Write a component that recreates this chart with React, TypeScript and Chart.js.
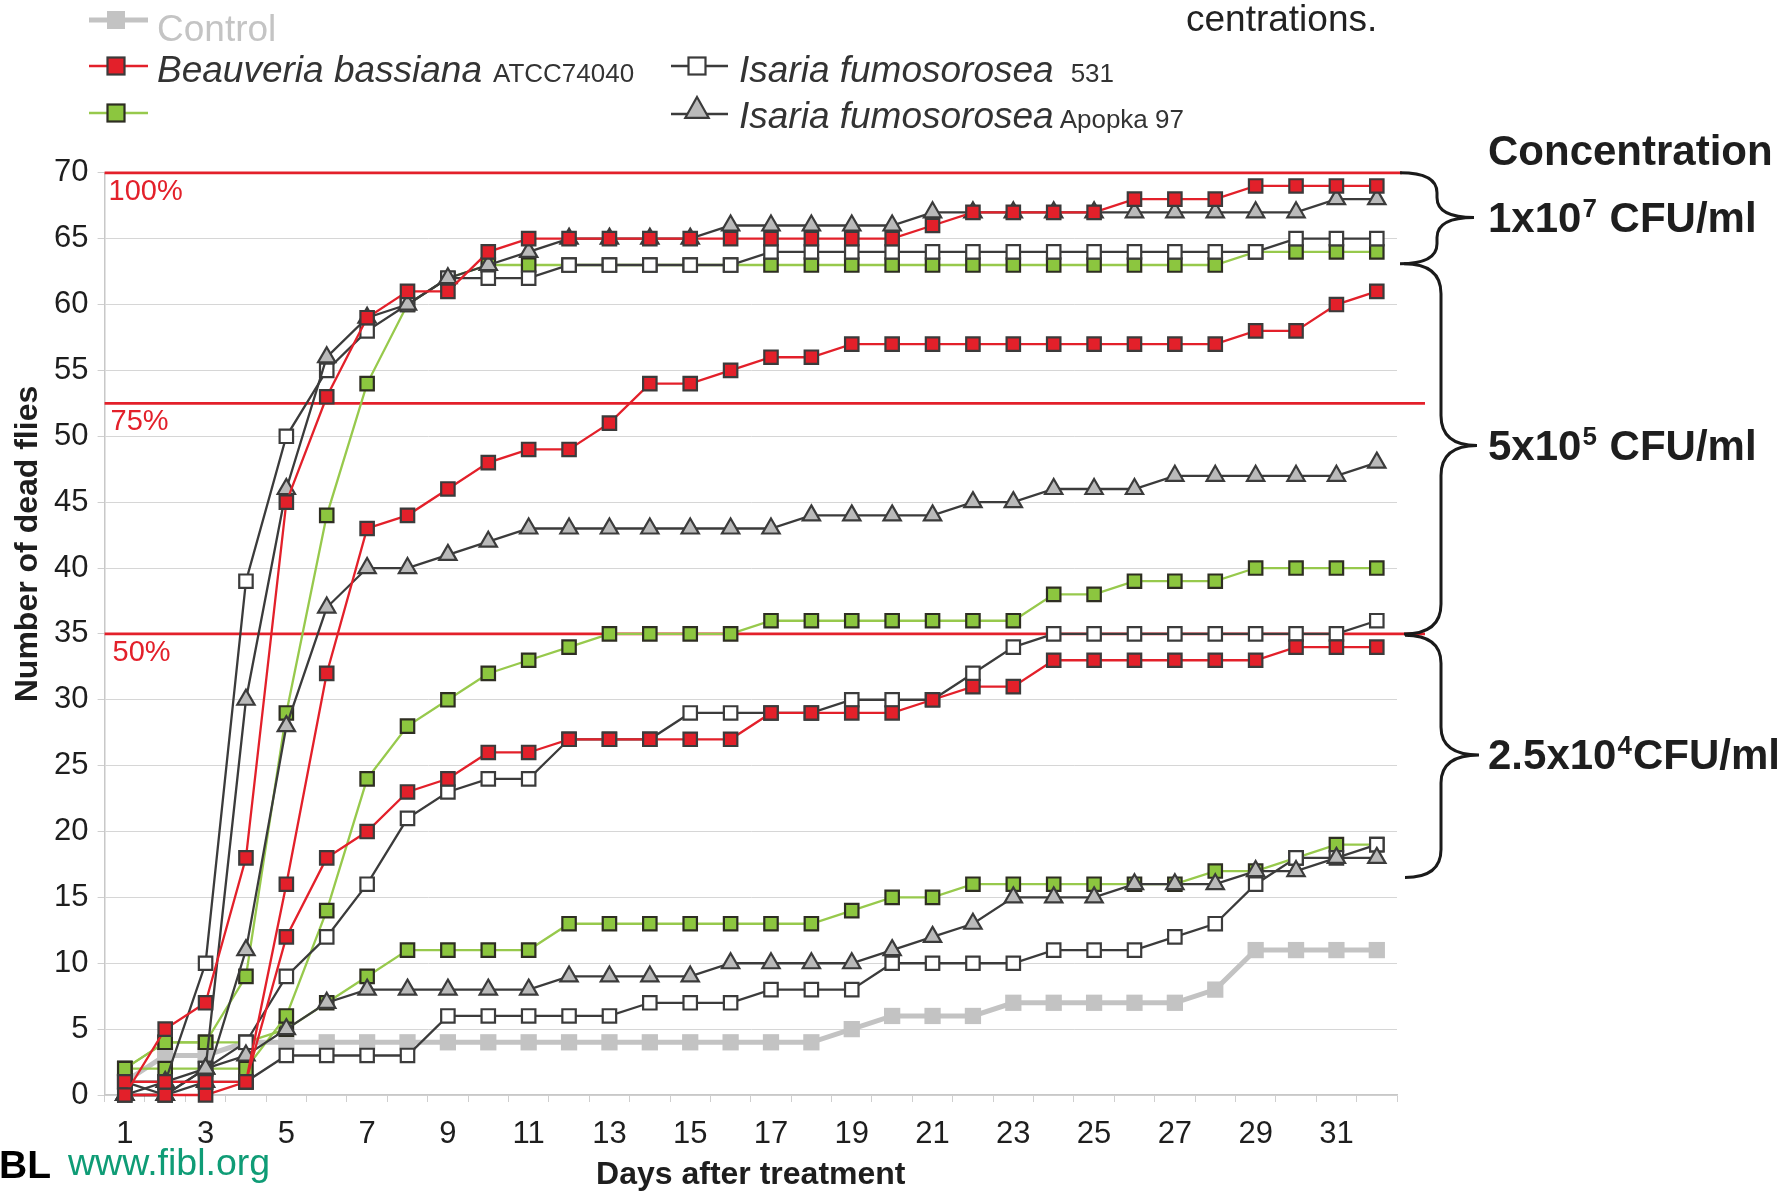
import React, { useEffect, useRef } from 'react';
import { Chart, registerables } from 'chart.js';

Chart.register(...registerables);

const W = 1783;
const H = 1191;
const FONT = '"Liberation Sans", Arial, Helvetica, sans-serif';

// ---------------- data ----------------
const days = [1, 2, 3, 4, 5, 6, 7, 8, 9, 10, 11, 12, 13, 14, 15, 16, 17, 18, 19, 20, 21, 22, 23, 24, 25, 26, 27, 28, 29, 30, 31, 32];
const yTicks = [0, 5, 10, 15, 20, 25, 30, 35, 40, 45, 50, 55, 60, 65, 70];

const controlValues = [1, 3, 3, 4, 4, 4, 4, 4, 4, 4, 4, 4, 4, 4, 4, 4, 4, 4, 5, 6, 6, 6, 7, 7, 7, 7, 7, 8, 11, 11, 11, 11];

const beauveriaHigh = [0, 5, 7, 18, 45, 53, 59, 61, 61, 64, 65, 65, 65, 65, 65, 65, 65, 65, 65, 65, 66, 67, 67, 67, 67, 68, 68, 68, 69, 69, 69, 69];
const beauveriaMid = [1, 1, 1, 1, 16, 32, 43, 44, 46, 48, 49, 49, 51, 54, 54, 55, 56, 56, 57, 57, 57, 57, 57, 57, 57, 57, 57, 57, 58, 58, 60, 61];
const beauveriaLow = [0, 0, 0, 1, 12, 18, 20, 23, 24, 26, 26, 27, 27, 27, 27, 27, 29, 29, 29, 29, 30, 31, 31, 33, 33, 33, 33, 33, 33, 34, 34, 34];

const isaria531High = [1, 1, 10, 39, 50, 55, 58, 60, 62, 62, 62, 63, 63, 63, 63, 63, 64, 64, 64, 64, 64, 64, 64, 64, 64, 64, 64, 64, 64, 65, 65, 65];
const isaria531Mid = [1, 0, 2, 4, 9, 12, 16, 21, 23, 24, 24, 27, 27, 27, 29, 29, 29, 29, 30, 30, 30, 32, 34, 35, 35, 35, 35, 35, 35, 35, 35, 36];
const isaria531Low = [1, 1, 1, 1, 3, 3, 3, 3, 6, 6, 6, 6, 6, 7, 7, 7, 8, 8, 8, 10, 10, 10, 10, 11, 11, 11, 12, 13, 16, 18, 18, 19];

const apopkaHigh = [0, 0, 2, 30, 46, 56, 59, 60, 62, 63, 64, 65, 65, 65, 65, 66, 66, 66, 66, 66, 67, 67, 67, 67, 67, 67, 67, 67, 67, 67, 68, 68];
const apopkaMid = [0, 0, 1, 11, 28, 37, 40, 40, 41, 42, 43, 43, 43, 43, 43, 43, 43, 44, 44, 44, 44, 45, 45, 46, 46, 46, 47, 47, 47, 47, 47, 48];
const apopkaLow = [0, 1, 2, 3, 5, 7, 8, 8, 8, 8, 8, 9, 9, 9, 9, 10, 10, 10, 10, 11, 12, 13, 15, 15, 15, 16, 16, 16, 17, 17, 18, 18];

const greenHigh = [2, 4, 4, 9, 29, 44, 54, 60, 62, 63, 63, 63, 63, 63, 63, 63, 63, 63, 63, 63, 63, 63, 63, 63, 63, 63, 63, 63, 64, 64, 64, 64];
const greenMid = [2, 2, 2, 2, 6, 14, 24, 28, 30, 32, 33, 34, 35, 35, 35, 35, 36, 36, 36, 36, 36, 36, 36, 38, 38, 39, 39, 39, 40, 40, 40, 40];
const greenLow = [2, 4, 4, 4, 5, 7, 9, 11, 11, 11, 11, 13, 13, 13, 13, 13, 13, 13, 14, 15, 15, 16, 16, 16, 16, 16, 16, 17, 17, 18, 19, 19];

const refLevels = [70, 52.5, 35];
const refLabels = ['100%', '75%', '50%'];

// brace ranges in data units: [top, bottom, tip]
const braceRanges = [
  [70, 63.1, 66.6],
  [63.1, 35.0, 49.3],
  [34.9, 16.5, 25.8],
];
const concentrationTitle = 'Concentration';
const concentrationLabels = [
  ['1x10', '7', ' CFU/ml'],
  ['5x10', '5', ' CFU/ml'],
  ['2.5x10', '4', 'CFU/ml'],
];

const xTitle = 'Days after treatment';
const yTitle = 'Number of dead flies';

// ---------------- styles ----------------
const RED = '#e3202a';
const GREEN = '#8cc63f';
const GREEN_LINE = '#97c94c';
const DARK = '#3b3b3b';
const TRI = '#bababa';
const CTRL = '#c3c3c3';

type Kind = 'red' | 'white' | 'tri' | 'green' | 'ctrl';

function ds(label: string, data: number[], kind: Kind) {
  const base: any = {
    label,
    data,
    tension: 0,
    borderWidth: 2.3,
    pointRadius: 9.5,
    pointBorderWidth: 2.2,
    pointBorderColor: DARK,
    pointStyle: 'rect',
    clip: false,
    fill: false,
  };
  if (kind === 'red') Object.assign(base, { borderColor: RED, pointBackgroundColor: RED });
  if (kind === 'white') Object.assign(base, { borderColor: DARK, pointBackgroundColor: '#ffffff' });
  if (kind === 'tri') Object.assign(base, { borderColor: DARK, pointBackgroundColor: TRI, pointStyle: 'triangle', pointRadius: 10 });
  if (kind === 'green') Object.assign(base, { borderColor: GREEN_LINE, pointBackgroundColor: GREEN, pointBorderColor: '#2e2e22' });
  if (kind === 'ctrl') Object.assign(base, { borderColor: CTRL, borderWidth: 5, pointBackgroundColor: CTRL, pointBorderWidth: 0, pointRadius: 11.5 });
  return base;
}

function square(ctx: CanvasRenderingContext2D, x: number, y: number, s: number, fill: string, stroke: string | null) {
  ctx.fillStyle = fill;
  ctx.fillRect(x - s / 2, y - s / 2, s, s);
  if (stroke) {
    ctx.strokeStyle = stroke;
    ctx.lineWidth = 2.2;
    ctx.strokeRect(x - s / 2, y - s / 2, s, s);
  }
}

function triangle(ctx: CanvasRenderingContext2D, x: number, y: number, r: number, fill: string, stroke: string) {
  ctx.beginPath();
  ctx.moveTo(x, y - r);
  ctx.lineTo(x + r * 0.9, y + r * 0.6);
  ctx.lineTo(x - r * 0.9, y + r * 0.6);
  ctx.closePath();
  ctx.fillStyle = fill;
  ctx.fill();
  ctx.strokeStyle = stroke;
  ctx.lineWidth = 2.2;
  ctx.stroke();
}

function legendLine(ctx: CanvasRenderingContext2D, x1: number, x2: number, y: number, color: string, w: number) {
  ctx.strokeStyle = color;
  ctx.lineWidth = w;
  ctx.beginPath();
  ctx.moveTo(x1, y);
  ctx.lineTo(x2, y);
  ctx.stroke();
}

function parts(ctx: CanvasRenderingContext2D, x: number, y: number, items: { t: string; f: string; c: string; dy?: number; gap?: number }[]) {
  let cx = x;
  for (const p of items) {
    cx += p.gap || 0;
    ctx.font = p.f;
    ctx.fillStyle = p.c;
    ctx.fillText(p.t, cx, y + (p.dy || 0));
    cx += ctx.measureText(p.t).width;
  }
}

function brace(ctx: CanvasRenderingContext2D, xl: number, xm: number, xt: number, yt: number, yb: number, ytip: number, k: number) {
  ctx.beginPath();
  ctx.moveTo(xl, yt);
  ctx.quadraticCurveTo(xm, yt, xm, yt + k);
  ctx.lineTo(xm, ytip - k);
  ctx.quadraticCurveTo(xm, ytip, xt, ytip);
  ctx.quadraticCurveTo(xm, ytip, xm, ytip + k);
  ctx.lineTo(xm, yb - k);
  ctx.quadraticCurveTo(xm, yb, xl, yb);
  ctx.stroke();
}

const decorPlugin = {
  id: 'decor',
  beforeDatasetsDraw(chart: any) {
    const { ctx, chartArea } = chart;
    const y = chart.scales.y;
    const ends = [1402, 1425, 1425];
    ctx.save();
    refLevels.forEach((v, i) => {
      const py = y.getPixelForValue(v);
      ctx.strokeStyle = RED;
      ctx.lineWidth = 2.8;
      ctx.beginPath();
      ctx.moveTo(chartArea.left, py);
      ctx.lineTo(ends[i], py);
      ctx.stroke();
      ctx.fillStyle = RED;
      ctx.font = `29px ${FONT}`;
      ctx.textBaseline = 'middle';
      ctx.textAlign = 'left';
      ctx.fillText(refLabels[i], chartArea.left + 4 + i * 2, py + 19);
    });
    ctx.restore();
  },
  afterDraw(chart: any) {
    const { ctx, chartArea } = chart;
    const y = chart.scales.y;
    ctx.save();
    ctx.textAlign = 'left';
    ctx.textBaseline = 'alphabetic';

    // braces
    ctx.strokeStyle = '#1a1a1a';
    ctx.lineWidth = 3;
    const bx = [
      [1400, 1437, 1474, 20],
      [1404, 1441, 1477, 30],
      [1405, 1441, 1479, 28],
    ];
    braceRanges.forEach((r, i) => {
      brace(ctx, bx[i][0], bx[i][1], bx[i][2], y.getPixelForValue(r[0]), y.getPixelForValue(r[1]), y.getPixelForValue(r[2]), bx[i][3]);
    });

    // concentration labels
    ctx.fillStyle = '#1e1e1e';
    ctx.font = `bold 42px ${FONT}`;
    ctx.fillText(concentrationTitle, 1488, 165);
    concentrationLabels.forEach((lab, i) => {
      const py = y.getPixelForValue(braceRanges[i][2]) + 14;
      parts(ctx, 1488, py, [
        { t: lab[0], f: `bold 42px ${FONT}`, c: '#1e1e1e' },
        { t: lab[1], f: `bold 26px ${FONT}`, c: '#1e1e1e', dy: -15, gap: 1 },
        { t: lab[2], f: `bold 42px ${FONT}`, c: '#1e1e1e', gap: 1 },
      ]);
    });

    // axis titles
    ctx.fillStyle = '#1e1e1e';
    ctx.font = `bold 32px ${FONT}`;
    ctx.textAlign = 'center';
    ctx.fillText(xTitle, (chartArea.left + chartArea.right) / 2, 1184);
    ctx.save();
    ctx.translate(37, 544);
    ctx.rotate(-Math.PI / 2);
    ctx.fillText(yTitle, 0, 0);
    ctx.restore();
    ctx.textAlign = 'left';

    // legend
    legendLine(ctx, 89, 148, 20, CTRL, 5);
    square(ctx, 116, 20, 18, CTRL, null);
    ctx.font = `37px ${FONT}`;
    ctx.fillStyle = '#c4c4c4';
    ctx.fillText('Control', 157, 41);

    legendLine(ctx, 89, 148, 66, RED, 2.3);
    square(ctx, 116, 66, 17, RED, DARK);
    parts(ctx, 157, 82, [
      { t: 'Beauveria bassiana', f: `italic 37px ${FONT}`, c: '#333333' },
      { t: 'ATCC74040', f: `26px ${FONT}`, c: '#333333', gap: 11 },
    ]);

    legendLine(ctx, 89, 148, 113, GREEN_LINE, 2.3);
    square(ctx, 116, 113, 17, GREEN, '#2e2e22');

    legendLine(ctx, 671, 728, 66, DARK, 2.3);
    square(ctx, 697, 66, 17, '#ffffff', DARK);
    parts(ctx, 739, 82, [
      { t: 'Isaria fumosorosea', f: `italic 37px ${FONT}`, c: '#333333' },
      { t: '531', f: `26px ${FONT}`, c: '#333333', gap: 17 },
    ]);

    legendLine(ctx, 671, 728, 114, DARK, 2.3);
    triangle(ctx, 697, 110, 13, TRI, DARK);
    parts(ctx, 739, 128, [
      { t: 'Isaria fumosorosea', f: `italic 37px ${FONT}`, c: '#333333' },
      { t: 'Apopka 97', f: `26px ${FONT}`, c: '#333333', gap: 6 },
    ]);

    // top-right fragment
    ctx.font = `37px ${FONT}`;
    ctx.fillStyle = '#222222';
    ctx.fillText('centrations.', 1186, 31);

    // footer
    ctx.font = `bold 39px ${FONT}`;
    ctx.fillStyle = '#000000';
    ctx.fillText('BL', -1, 1178);
    ctx.font = `37.5px ${FONT}`;
    ctx.fillStyle = '#0f9c76';
    ctx.fillText('www.fibl.org', 68, 1175);

    ctx.restore();
  },
};

export default function App() {
  const ref = useRef<HTMLCanvasElement | null>(null);

  useEffect(() => {
    if (!ref.current) return;
    const datasets = [
      ds('Beauveria bassiana ATCC74040 1x10^7', beauveriaHigh, 'red'),
      ds('Beauveria bassiana ATCC74040 5x10^5', beauveriaMid, 'red'),
      ds('Beauveria bassiana ATCC74040 2.5x10^4', beauveriaLow, 'red'),
      ds('Isaria fumosorosea Apopka 97 1x10^7', apopkaHigh, 'tri'),
      ds('Isaria fumosorosea Apopka 97 5x10^5', apopkaMid, 'tri'),
      ds('Isaria fumosorosea Apopka 97 2.5x10^4', apopkaLow, 'tri'),
      ds('Isaria fumosorosea 531 1x10^7', isaria531High, 'white'),
      ds('Isaria fumosorosea 531 5x10^5', isaria531Mid, 'white'),
      ds('Isaria fumosorosea 531 2.5x10^4', isaria531Low, 'white'),
      ds('Green 1x10^7', greenHigh, 'green'),
      ds('Green 5x10^5', greenMid, 'green'),
      ds('Green 2.5x10^4', greenLow, 'green'),
      ds('Control', controlValues, 'ctrl'),
    ];

    const chart = new Chart(ref.current, {
      type: 'line',
      data: { labels: days.map(String), datasets },
      options: {
        responsive: false,
        animation: false,
        events: [],
        layout: { padding: { top: 172.8, right: 386, bottom: 0, left: 0 } },
        plugins: { legend: { display: false }, tooltip: { enabled: false } },
        scales: {
          x: {
            type: 'category',
            offset: true,
            grid: { offset: true, drawOnChartArea: false, drawTicks: true, tickLength: 7, color: '#cfcfcf', tickColor: '#cfcfcf' },
            border: { color: '#c8c8c8', width: 1.5 },
            ticks: {
              autoSkip: false,
              maxRotation: 0,
              minRotation: 0,
              padding: 14,
              color: '#1e1e1e',
              font: { family: FONT, size: 31 },
              callback: (_v: any, i: number) => (i % 2 === 0 ? String(days[i]) : ''),
            },
            afterFit: (s: any) => {
              s.height = 96;
            },
          },
          y: {
            min: 0,
            max: 70,
            afterBuildTicks: (s: any) => {
              s.ticks = yTicks.map((v) => ({ value: v }));
            },
            ticks: { padding: 9, color: '#1e1e1e', font: { family: FONT, size: 31 } },
            grid: { color: '#d6d6d6', tickLength: 7, lineWidth: 1, tickColor: '#cfcfcf' },
            border: { color: '#c8c8c8', width: 1.5 },
            afterFit: (s: any) => {
              s.width = 104.6;
            },
          },
        },
      },
      plugins: [decorPlugin],
    } as any);

    return () => chart.destroy();
  }, []);

  return (
    <div style={{ position: 'fixed', left: 0, top: 0, width: W, height: H, background: '#ffffff', overflow: 'hidden' }}>
      <canvas ref={ref} width={W} height={H} style={{ display: 'block', width: W, height: H }} />
    </div>
  );
}
